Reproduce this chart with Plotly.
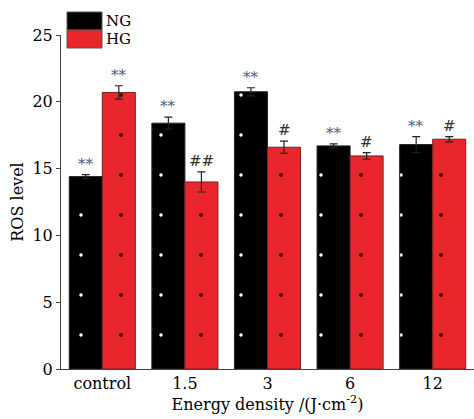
import plotly.graph_objects as go

categories = ["control", "1.5", "3", "6", "12"]
ng_values = [14.4, 18.4, 20.75, 16.7, 16.8]
ng_errors = [0.15, 0.45, 0.3, 0.15, 0.6]
hg_values = [20.7, 14.0, 16.6, 15.95, 17.2]
hg_errors = [0.5, 0.75, 0.45, 0.25, 0.2]
ng_marks = ["**", "**", "**", "**", "**"]
hg_marks = ["**", "##", "#", "#", "#"]
y_ticks = [0, 5, 10, 15, 20, 25]

FONT = "DejaVu Serif"
RED = "#e8262b"

fig = go.Figure()
fig.add_trace(go.Bar(
    name="NG", x=categories, y=ng_values,
    marker=dict(color="#000000", line=dict(color="#222222", width=1),
                pattern=dict(shape=".", fgcolor="#ffffff", fgopacity=1, size=40, solidity=0.006)),
    error_y=dict(type="data", array=ng_errors, color="#222222", thickness=1.2, width=4),
))
fig.add_trace(go.Bar(
    name="HG", x=categories, y=hg_values,
    marker=dict(color=RED, line=dict(color="#7a2020", width=1),
                pattern=dict(shape=".", fgcolor="#4a0808", fgopacity=1, bgcolor=RED, size=40, solidity=0.008)),
    error_y=dict(type="data", array=hg_errors, color="#222222", thickness=1.2, width=4),
))

annotations = []
for i, c in enumerate(categories):
    annotations.append(dict(x=i, y=ng_values[i] + ng_errors[i], text=ng_marks[i], showarrow=False,
                            xshift=-16.5, yanchor="bottom", yshift=0,
                            font=dict(family=FONT, size=15, color="#4f5a78")))
    hg_color = "#4f5a78" if hg_marks[i] == "**" else "#333333"
    annotations.append(dict(x=i, y=hg_values[i] + hg_errors[i], text=hg_marks[i], showarrow=False,
                            xshift=16.5, yanchor="bottom", yshift=0,
                            font=dict(family=FONT, size=15, color=hg_color)))

# manual legend boxes (paper coordinates)
legend_items = [("NG", "#000000"), ("HG", RED)]
shapes = []
for k, (name, col) in enumerate(legend_items):
    y_top = 1 + (35 - 12 - k * 18) / 334.0
    y_bot = 1 + (35 - 12 - (k + 1) * 18) / 334.0
    shapes.append(dict(type="rect", xref="paper", yref="paper",
                       x0=(67 - 61) / 413.0, x1=(102 - 61) / 413.0, y0=y_bot, y1=y_top,
                       fillcolor=col, line=dict(color="#555555", width=1)))
    annotations.append(dict(xref="paper", yref="paper", x=(105 - 61) / 413.0, y=(y_top + y_bot) / 2,
                            text=name, showarrow=False, xanchor="left", yanchor="middle",
                            borderpad=0, font=dict(family=FONT, size=15, color="#000000")))

fig.update_layout(
    width=474, height=419,
    margin=dict(l=61, r=0, t=35, b=50),
    paper_bgcolor="white", plot_bgcolor="white",
    barmode="group", bargap=0.2, bargroupgap=0,
    showlegend=False,
    font=dict(family=FONT, size=16, color="#000000"),
    annotations=annotations, shapes=shapes,
    xaxis=dict(type="category", range=[-0.5, 4.5], showline=True, linecolor="#444444", linewidth=1,
               ticks="", showgrid=False, zeroline=False,
               tickfont=dict(family=FONT, size=16),
               title=dict(text="Energy density /(J·cm<sup>-2</sup>)", standoff=4,
                          font=dict(family=FONT, size=16))),
    yaxis=dict(range=[0, 25], tickvals=y_ticks, showline=True, linecolor="#444444", linewidth=1,
               ticks="outside", ticklen=4, tickcolor="#444444", showgrid=False, zeroline=False,
               tickfont=dict(family=FONT, size=16),
               title=dict(text="ROS level", standoff=4, font=dict(family=FONT, size=16))),
)

fig.write_html("out.html")
